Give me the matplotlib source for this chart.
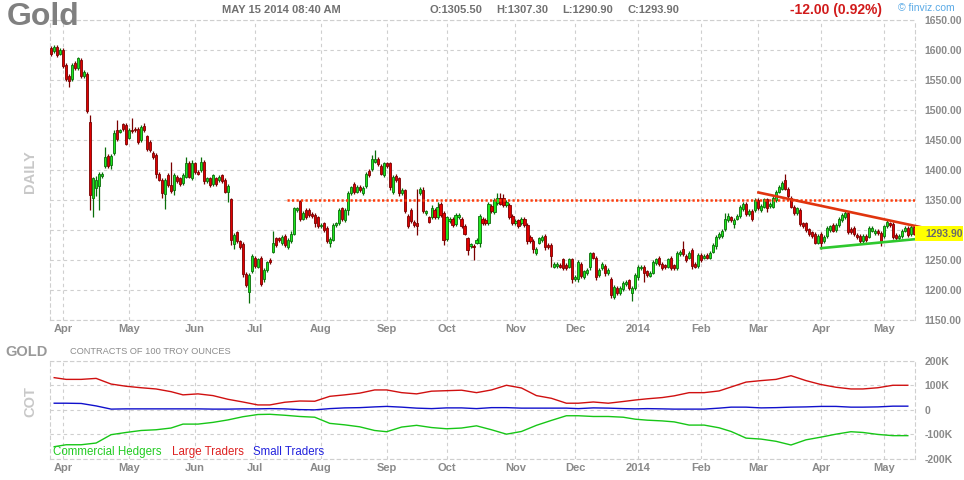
import matplotlib

matplotlib.use("Agg")

import matplotlib.pyplot as plt
import numpy as np
import pandas as pd
from matplotlib.patches import Rectangle
from matplotlib.transforms import blended_transform_factory

plt.rcParams["font.family"] = ["Liberation Sans", "DejaVu Sans"]

# daily candles (trading days 2013-03-25 .. 2014-05-15)
opens = [
    1603, 1598, 1605, 1594, 1600, 1575, 1557, 1551, 1579, 1570,
    1584, 1556, 1560, 1480, 1353, 1370, 1374, 1390, 1406, 1424,
    1409, 1428, 1467, 1464, 1476, 1475, 1454, 1467, 1469, 1468,
    1450, 1473, 1456, 1447, 1429, 1425, 1393, 1383, 1360, 1392,
    1375, 1366, 1389, 1386, 1378, 1389, 1412, 1386, 1411, 1397,
    1400, 1413, 1381, 1386, 1377, 1386, 1383, 1391, 1384, 1364,
    1351, 1276, 1296, 1281, 1277, 1227, 1197, 1231, 1253, 1239,
    1253, 1219, 1233, 1250, 1264, 1286, 1286, 1278, 1290, 1272,
    1281, 1294, 1333, 1348, 1319, 1333, 1333, 1327, 1325, 1321,
    1306, 1311, 1304, 1279, 1284, 1308, 1311, 1336, 1317, 1333,
    1362, 1377, 1364, 1372, 1362, 1373, 1399, 1401, 1414, 1418,
    1407, 1392, 1411, 1411, 1364, 1390, 1386, 1361, 1367, 1323,
    1333, 1314, 1311, 1362, 1367, 1328, 1321, 1321, 1333, 1322,
    1343, 1328, 1285, 1315, 1318, 1310, 1321, 1319, 1307, 1286,
    1273, 1273, 1279, 1279, 1318, 1317, 1312, 1340, 1330, 1345,
    1353, 1353, 1342, 1342, 1323, 1311, 1316, 1311, 1318, 1308,
    1289, 1282, 1262, 1279, 1283, 1290, 1275, 1275, 1239, 1240,
    1242, 1251, 1242, 1239, 1251, 1218, 1219, 1243, 1222, 1228,
    1238, 1261, 1254, 1225, 1236, 1240, 1228, 1218, 1188, 1203,
    1195, 1201, 1210, 1216, 1195, 1203, 1221, 1236, 1238, 1231,
    1224, 1229, 1245, 1253, 1244, 1241, 1239, 1253, 1241, 1236,
    1260, 1269, 1257, 1254, 1267, 1244, 1240, 1258, 1254, 1258,
    1254, 1264, 1273, 1288, 1290, 1301, 1316, 1321, 1310, 1319,
    1323, 1335, 1343, 1327, 1332, 1333, 1350, 1333, 1339, 1351,
    1340, 1339, 1350, 1364, 1369, 1383, 1368, 1354, 1339, 1328,
    1334, 1311, 1311, 1301, 1296, 1293, 1279, 1293, 1281, 1290,
    1300, 1308, 1300, 1308, 1317, 1321, 1328, 1302, 1303, 1292,
    1290, 1282, 1290, 1289, 1299, 1295, 1299, 1295, 1290, 1306,
    1311, 1310, 1292, 1286, 1290, 1299, 1303, 1293, 1305.5,
]
closes = [
    1593, 1605, 1592, 1600, 1573, 1551, 1549, 1575, 1570, 1586,
    1556, 1564, 1499, 1359, 1386, 1383, 1393, 1394, 1422, 1406,
    1423, 1461, 1451, 1466, 1468, 1444, 1467, 1465, 1467, 1446,
    1472, 1467, 1435, 1433, 1422, 1394, 1384, 1362, 1383, 1375,
    1365, 1392, 1381, 1377, 1392, 1411, 1389, 1411, 1396, 1394,
    1414, 1381, 1386, 1375, 1391, 1377, 1389, 1381, 1364, 1373,
    1284, 1292, 1281, 1272, 1227, 1208, 1225, 1257, 1240, 1251,
    1210, 1234, 1246, 1246, 1279, 1275, 1283, 1289, 1275, 1284,
    1293, 1336, 1336, 1318, 1328, 1321, 1325, 1323, 1311, 1306,
    1309, 1300, 1281, 1285, 1309, 1311, 1334, 1318, 1333, 1362,
    1371, 1363, 1372, 1367, 1370, 1394, 1392, 1419, 1418, 1410,
    1394, 1411, 1406, 1371, 1389, 1383, 1361, 1367, 1332, 1306,
    1315, 1308, 1306, 1369, 1331, 1331, 1314, 1336, 1322, 1339,
    1325, 1283, 1321, 1318, 1308, 1325, 1325, 1306, 1294, 1266,
    1276, 1271, 1283, 1323, 1312, 1312, 1344, 1332, 1350, 1353,
    1344, 1342, 1347, 1321, 1311, 1315, 1306, 1318, 1308, 1282,
    1281, 1269, 1268, 1286, 1288, 1271, 1271, 1256, 1243, 1244,
    1239, 1236, 1236, 1251, 1219, 1222, 1247, 1223, 1231, 1234,
    1261, 1254, 1222, 1234, 1244, 1228, 1234, 1192, 1205, 1195,
    1203, 1212, 1214, 1203, 1203, 1225, 1238, 1238, 1228, 1225,
    1229, 1247, 1251, 1243, 1236, 1238, 1251, 1236, 1236, 1262,
    1264, 1260, 1250, 1262, 1240, 1239, 1258, 1250, 1257, 1254,
    1262, 1275, 1289, 1293, 1299, 1318, 1323, 1317, 1317, 1323,
    1338, 1343, 1327, 1332, 1319, 1350, 1336, 1340, 1351, 1336,
    1343, 1353, 1364, 1372, 1378, 1369, 1356, 1339, 1328, 1336,
    1310, 1307, 1300, 1293, 1290, 1279, 1290, 1278, 1289, 1303,
    1306, 1299, 1308, 1319, 1325, 1328, 1297, 1297, 1293, 1288,
    1282, 1290, 1283, 1303, 1303, 1299, 1295, 1282, 1306, 1314,
    1308, 1288, 1286, 1290, 1299, 1303, 1292, 1305, 1293.9,
]
# wick lengths above / below the body, in dollars
wick_up = [
    3, 3, 3, 3, 3, 3, 3, 3, 3, 3,
    3, 3, 4, 12, 3, 7, 3, 3, 17, 3,
    3, 6, 17, 3, 3, 3, 3, 19, 3, 3,
    3, 6, 3, 3, 3, 3, 3, 3, 3, 3,
    38, 3, 3, 3, 3, 10, 3, 6, 3, 3,
    8, 3, 3, 3, 3, 3, 3, 3, 3, 3,
    3, 3, 3, 3, 3, 3, 3, 3, 3, 3,
    3, 3, 3, 3, 19, 3, 3, 3, 3, 3,
    6, 3, 3, 2, 3, 3, 3, 3, 3, 3,
    3, 3, 3, 3, 3, 3, 3, 3, 3, 3,
    3, 3, 3, 3, 3, 3, 3, 6, 15, 3,
    3, 3, 3, 3, 3, 3, 3, 3, 2, 3,
    3, 3, 57, 3, 4, 3, 3, 5, 3, 7,
    3, 3, 3, 3, 3, 3, 3, 3, 3, 3,
    3, 3, 3, 3, 3, 3, 3, 3, 3, 8,
    8, 7, 3, 3, 3, 3, 3, 3, 3, 3,
    3, 3, 3, 3, 3, 3, 3, 3, 3, 3,
    3, 3, 3, 3, 3, 3, 3, 3, 3, 3,
    3, 3, 3, 3, 3, 3, 3, 3, 3, 3,
    3, 3, 3, 3, 3, 3, 3, 3, 3, 3,
    3, 3, 3, 3, 3, 3, 3, 3, 3, 3,
    3, 12, 3, 3, 3, 3, 3, 3, 3, 3,
    3, 4, 3, 3, 3, 10, 5, 3, 3, 3,
    3, 3, 3, 3, 3, 3, 3, 3, 3, 3,
    3, 3, 3, 3, 3, 10, 3, 3, 3, 3,
    3, 3, 3, 3, 3, 3, 3, 3, 3, 3,
    3, 3, 3, 3, 3, 3, 3, 3, 3, 3,
    3, 3, 3, 3, 3, 3, 3, 3, 3, 3,
    3, 3, 3, 3, 3, 3, 3, 3, 3,
]
wick_dn = [
    3, 3, 3, 3, 3, 3, 11, 3, 3, 3,
    3, 3, 4, 26, 32, 14, 41, 3, 3, 3,
    8, 3, 3, 3, 3, 3, 3, 3, 3, 3,
    3, 3, 3, 3, 3, 7, 3, 9, 25, 3,
    3, 8, 3, 3, 3, 3, 3, 3, 3, 3,
    3, 4, 3, 3, 3, 3, 3, 3, 3, 17,
    9, 8, 3, 3, 5, 3, 18, 3, 3, 3,
    4, 5, 3, 3, 3, 3, 3, 3, 3, 3,
    3, 3, 3, 3, 3, 3, 3, 3, 6, 3,
    3, 3, 3, 8, 3, 3, 3, 3, 3, 8,
    3, 3, 3, 3, 4, 3, 3, 3, 3, 3,
    3, 3, 3, 4, 4, 3, 4, 3, 3, 3,
    3, 3, 14, 3, 3, 3, 3, 3, 3, 3,
    3, 8, 3, 3, 3, 3, 3, 3, 3, 8,
    3, 21, 3, 7, 3, 3, 3, 3, 3, 3,
    3, 3, 3, 3, 3, 3, 3, 3, 3, 5,
    3, 8, 3, 3, 3, 4, 3, 17, 3, 3,
    3, 3, 3, 3, 8, 3, 6, 3, 3, 3,
    4, 3, 5, 3, 3, 4, 3, 6, 3, 3,
    3, 3, 3, 3, 14, 3, 4, 3, 14, 3,
    3, 3, 3, 3, 3, 3, 3, 3, 3, 3,
    3, 3, 3, 3, 5, 3, 3, 3, 3, 3,
    3, 3, 5, 3, 3, 3, 3, 3, 6, 3,
    3, 3, 3, 3, 4, 3, 3, 3, 3, 6,
    3, 3, 3, 3, 3, 3, 3, 3, 3, 3,
    3, 3, 3, 3, 3, 3, 3, 9, 3, 3,
    3, 3, 3, 3, 3, 3, 3, 3, 3, 3,
    3, 3, 3, 3, 3, 3, 3, 8, 3, 3,
    3, 3, 4, 3, 3, 3, 3, 3, 3,
]
holidays = ["2013-03-29", "2013-05-27", "2013-07-04", "2013-09-02", "2013-11-28",
            "2013-12-25", "2014-01-01", "2014-01-20", "2014-02-17", "2014-04-18"]

# weekly COT net positions (thousands of contracts), Tuesdays from 2013-03-26
cot_start = "2013-03-26"
large_traders = [131, 124, 124, 128, 105, 96, 90, 85, 74, 61,
                 65, 58, 43, 32, 20, 20, 31, 36, 35, 55,
                 61, 68, 81, 81, 70, 65, 76, 78, 80, 70,
                 81, 100, 89, 58, 47, 27, 27, 32, 27, 34,
                 40, 45, 50, 57, 70, 70, 77, 93, 113, 119,
                 124, 139, 119, 103, 92, 85, 85, 90, 100, 100]
small_traders = [27, 27, 26, 16, 3, 4, 4, 4, 4, 4,
                 4, 3, 3, 4, 4, 5, 4, 1, 0, 5,
                 8, 9, 12, 14, 11, 7, 5, 8, 8, 5,
                 9, 9, 7, 7, 7, 7, 5, 8, 7, 5,
                 4, 5, 4, 3, 3, 3, 7, 11, 11, 8,
                 9, 11, 12, 14, 14, 11, 11, 12, 15, 15]
commercial = [-150, -142, -142, -135, -101, -92, -84, -81, -74, -58,
              -58, -51, -41, -28, -19, -18, -22, -27, -30, -55,
              -61, -69, -84, -89, -70, -63, -72, -77, -74, -65,
              -81, -99, -88, -63, -43, -24, -24, -27, -27, -30,
              -38, -42, -45, -49, -62, -62, -73, -88, -115, -119,
              -128, -143, -122, -111, -99, -89, -92, -100, -105, -105]

# drawn lines: (trading-day index, price)
resistance = ([78.6, 288.4], [1350, 1350])
down_trend = ([235.7, 292.0], [1363, 1303])
up_trend = ([256.6, 294.7], [1269.5, 1287.7])
last_price = 1293.90

GRID = "#cfcfcf"
LABEL = "#8a8a8a"
UP_FILL, UP_EDGE = "#1ee61e", "#0a6e0a"
DN_FILL, DN_EDGE = "#e00000", "#7a0000"

dates = pd.bdate_range("2013-03-25", "2014-05-15").drop(pd.to_datetime(holidays))
n = len(closes)
dates = dates[:n]
idx = pd.Series(np.arange(n), index=dates)
firsts = idx.groupby(dates.to_period("M")).first()
firsts = firsts[firsts.index > pd.Period("2013-03", "M")]
month_pos = firsts.values
month_lbl = [str(p.year) if p.month == 1 else p.strftime("%b") for p in firsts.index]

W, H = 964, 480
fig = plt.figure(figsize=(W / 100, H / 100), dpi=100)


def fx(px):
    return px / W


def fy(py):
    return 1 - py / H


ax = fig.add_axes([fx(50), fy(320), fx(915) - fx(50), fy(20) - fy(320)])
cot = fig.add_axes([fx(50), fy(459), fx(915) - fx(50), fy(360.7) - fy(459)])

for a in (ax, cot):
    for s in a.spines.values():
        s.set_color(GRID)
        s.set_linestyle((0, (3, 3)))
        s.set_linewidth(0.8)
    a.grid(True, color=GRID, linestyle=(0, (3, 3)), linewidth=0.8)
    a.set_axisbelow(True)
    a.yaxis.tick_right()
    a.tick_params(length=0, labelcolor=LABEL)
    a.tick_params(axis="x", labelsize=8, pad=3)
    a.tick_params(axis="y", labelsize=7.5, pad=7)
    a.set_xlim(-0.4, 288.4)
    a.set_xticks(month_pos)
    a.set_xticklabels(month_lbl, fontweight="bold")

# candles
x = np.arange(n)
o = np.array(opens, dtype=float)
c = np.array(closes, dtype=float)
hi = np.maximum(o, c) + np.array(wick_up)
lo = np.minimum(o, c) - np.array(wick_dn)
up = c >= o
body = np.maximum(np.abs(c - o), 1.3)
bottom = np.minimum(o, c)
for mask, fill, edge in ((up, UP_FILL, UP_EDGE), (~up, DN_FILL, DN_EDGE)):
    ax.vlines(x[mask], lo[mask], hi[mask], color=edge, lw=0.9, zorder=2)
    ax.bar(x[mask], body[mask], bottom=bottom[mask], width=0.72, color=fill,
           edgecolor=edge, linewidth=0.6, zorder=3)

ax.plot(*resistance, color="#ff3b0a", lw=1.8, linestyle=(0, (0.9, 0.9)), zorder=4)
ax.plot(*down_trend, color="#e0340e", lw=1.9, zorder=5, clip_on=False, solid_capstyle="butt")
ax.plot(*up_trend, color="#2ec82e", lw=1.9, zorder=5, clip_on=False, solid_capstyle="butt")

# price scale; the 1300 label sits under the last-price tag
price_ticks = np.arange(1150, 1651, 50)
ax.set_ylim(1150, 1650)
ax.set_yticks(price_ticks)
ax.set_yticklabels(["" if v == 1300 else f"{v:.2f}" for v in price_ticks], fontweight="bold")

tr = blended_transform_factory(ax.transAxes, ax.transData)
ax.add_patch(Rectangle((1.0, last_price - 13), 0.056, 26, transform=tr,
                       facecolor="#ffff00", edgecolor="none", clip_on=False, zorder=6))
ax.text(1.0 + 10 / 865, last_price, f"{last_price:.2f}", transform=tr, va="center",
        ha="left", fontsize=7.5, fontweight="bold", color="#6a6a6a", zorder=7)

# COT panel
wk = pd.date_range(cot_start, periods=len(large_traders), freq="7D")
wx = dates.searchsorted(wk)
cot.plot(wx, np.array(commercial) * 1000, color="#17c617", lw=1.0)
cot.plot(wx, np.array(large_traders) * 1000, color="#d01010", lw=1.0)
cot.plot(wx, np.array(small_traders) * 1000, color="#1010cc", lw=1.0)
cot.set_ylim(-200000, 200000)
cot.set_yticks([-200000, -100000, 0, 100000, 200000])
cot.set_yticklabels(["-200K", "-100K", "0", "100K", "200K"], fontweight="bold")

# header and labels
fig.text(fx(7), fy(17), "Gold", fontsize=23, fontweight="bold", color="#808080", va="center")
fig.text(fx(281), fy(10), "MAY 15 2014 08:40 AM", ha="center", va="center",
         fontsize=8, fontweight="bold", color="#707070")
for px, s in ((430, "O:1305.50"), (496, "H:1307.30"), (562, "L:1290.90"), (627, "C:1293.90")):
    fig.text(fx(px), fy(10), s, va="center", fontsize=8, fontweight="bold", color="#707070")
fig.text(fx(882), fy(10), "-12.00 (0.92%)", ha="right", va="center", fontsize=10,
         fontweight="bold", color="#d11a1a")
fig.text(fx(898), fy(8), "© finviz.com", va="center", fontsize=7.5, color="#5aaae6")
fig.text(fx(30), fy(172), "DAILY", rotation=90, ha="center", va="center",
         fontsize=10.5, fontweight="bold", color="#c8c8c8")
fig.text(fx(30), fy(402), "COT", rotation=90, ha="center", va="center",
         fontsize=10.5, fontweight="bold", color="#c8c8c8")
fig.text(fx(5), fy(352), "GOLD", va="center", fontsize=10.5, fontweight="bold", color="#999999")
fig.text(fx(70), fy(352), "CONTRACTS OF 100 TROY OUNCES", va="center", fontsize=6.7, color="#8c8c8c")
for px, s, col in ((53, "Commercial Hedgers", "#22cc22"), (172, "Large Traders", "#dd2222"),
                   (253, "Small Traders", "#2222dd")):
    fig.text(fx(px), fy(452), s, va="center", fontsize=8.3, color=col)

fig.savefig("out.png", dpi=100)
